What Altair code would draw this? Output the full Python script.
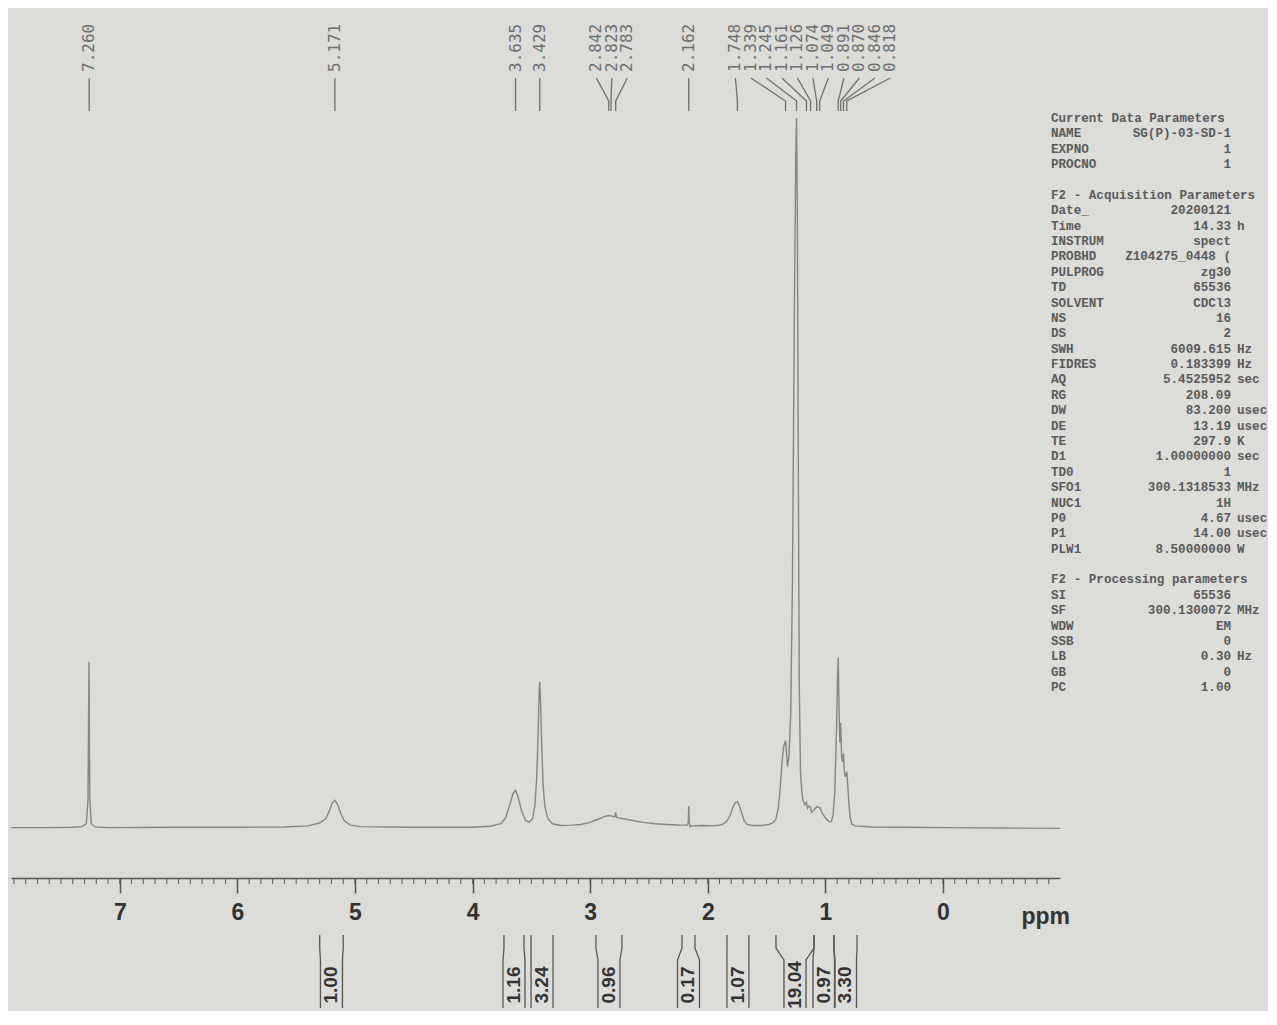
import altair as alt
import pandas as pd
import numpy as np

# ---------------- data ----------------
spec_ppm = [7.925, 7.6, 7.4, 7.32, 7.285, 7.270, 7.262, 7.255, 7.242, 7.21, 7.1, 6.5, 6.0, 5.6,
            5.40, 5.30, 5.25, 5.22, 5.195, 5.171, 5.15, 5.12, 5.09, 5.04, 4.95, 4.5, 4.0,
            3.85, 3.76, 3.72, 3.685, 3.655, 3.635, 3.615, 3.585, 3.55, 3.52, 3.49, 3.47, 3.455,
            3.443, 3.435, 3.429, 3.422, 3.413, 3.40, 3.385, 3.36, 3.32, 3.25, 3.15, 3.08, 3.0,
            2.94, 2.88, 2.842, 2.823, 2.80, 2.789, 2.783, 2.777, 2.72, 2.64, 2.55, 2.45, 2.35,
            2.25, 2.175, 2.166, 2.162, 2.158, 2.15, 2.13, 2.05, 1.95, 1.88, 1.84, 1.81, 1.785,
            1.765, 1.748, 1.73, 1.71, 1.69, 1.665, 1.62, 1.55, 1.48, 1.44, 1.42, 1.40, 1.385,
            1.37, 1.355, 1.339, 1.33, 1.322, 1.31, 1.295, 1.28, 1.265, 1.252, 1.245, 1.238, 1.23,
            1.222, 1.212, 1.20, 1.19, 1.175, 1.161, 1.152, 1.140, 1.126, 1.118, 1.10, 1.074,
            1.060, 1.049, 1.03, 1.00, 0.97, 0.95, 0.935, 0.92, 0.905, 0.897, 0.891, 0.884, 0.877,
            0.870, 0.862, 0.855, 0.846, 0.838, 0.830, 0.818, 0.808, 0.80, 0.79, 0.775, 0.75, 0.6,
            0.3, 0.0, -0.5, -0.995]
spec_int = [0.05, 0.05, 0.1, 0.2, 0.6, 4, 23.4, 4, 0.6, 0.15, 0.05, 0.1, 0.1, 0.15,
            0.3, 0.7, 1.3, 2.3, 3.5, 3.9, 3.4, 2.0, 1.0, 0.4, 0.2, 0.1, 0.1,
            0.25, 0.6, 1.4, 3.2, 4.9, 5.3, 4.5, 2.5, 1.1, 0.8, 1.3, 3.2, 7,
            13, 18.5, 20.6, 18, 12, 6, 3, 1.3, 0.6, 0.35, 0.4, 0.5, 0.8,
            1.2, 1.6, 1.75, 1.7, 1.6, 1.7, 2.2, 1.5, 1.3, 1.05, 0.8, 0.6, 0.5,
            0.42, 0.4, 0.8, 3.1, 0.8, 0.2, 0.3, 0.35, 0.3, 0.45, 0.9, 1.8, 3.0,
            3.6, 3.7, 3.1, 2.0, 1.0, 0.5, 0.35, 0.35, 0.5, 0.8, 1.3, 2.8, 5.5,
            9, 11.5, 12.3, 10.5, 8.7, 10, 16, 35, 70, 95, 100, 85, 50,
            20, 8, 5, 3.9, 3.3, 3.6, 2.8, 3.1, 2.9, 2.2, 2.5, 3.0,
            2.9, 2.9, 2.2, 1.4, 0.9, 0.9, 1.8, 5, 14, 21, 24, 17, 12,
            14.8, 10, 9.3, 10.5, 7.8, 7.2, 7.9, 5.5, 3.5, 1.5, 0.6, 0.3, 0.15,
            0.1, 0.05, 0.0, -0.05]

peak_ppm = [7.260, 5.171, 3.635, 3.429, 2.842, 2.823, 2.783, 2.162, 1.748, 1.339, 1.245,
            1.161, 1.126, 1.074, 1.049, 0.891, 0.870, 0.846, 0.818]

int_values = ["1.00", "1.16", "3.24", "0.96", "0.17", "1.07", "19.04", "0.97", "3.30"]
int_left = [5.30, 3.733, 3.503, 2.951, 2.219, 1.837, 1.420, 1.097, 0.927]
int_right = [5.10, 3.563, 3.316, 2.730, 2.109, 1.650, 1.097, 0.927, 0.731]

tick_values = [0, 1, 2, 3, 4, 5, 6, 7]

param_names = ["Current Data Parameters", "NAME", "EXPNO", "PROCNO", "",
               "F2 - Acquisition Parameters", "Date_", "Time", "INSTRUM", "PROBHD", "PULPROG",
               "TD", "SOLVENT", "NS", "DS", "SWH", "FIDRES", "AQ", "RG", "DW", "DE", "TE", "D1",
               "TD0", "SFO1", "NUC1", "P0", "P1", "PLW1", "",
               "F2 - Processing parameters", "SI", "SF", "WDW", "SSB", "LB", "GB", "PC"]
param_values = ["", "SG(P)-03-SD-1", "1", "1", "",
                "", "20200121", "14.33", "spect", "Z104275_0448 (", "zg30",
                "65536", "CDCl3", "16", "2", "6009.615", "0.183399", "5.4525952", "208.09",
                "83.200", "13.19", "297.9", "1.00000000",
                "1", "300.1318533", "1H", "4.67", "14.00", "8.50000000", "",
                "", "65536", "300.1300072", "EM", "0", "0.30", "0", "1.00"]
param_units = ["", "", "", "", "",
               "", "", "h", "", "", "",
               "", "", "", "", "Hz", "Hz", "sec", "", "usec", "usec", "K", "sec",
               "", "MHz", "", "usec", "usec", "W", "",
               "", "", "MHz", "", "", "Hz", "", ""]

# ---------------- geometry ----------------
W, H = 1049, 870
X_LEFT, X_RIGHT = 7.925, -0.995
PX_PER_PPM = W / (X_LEFT - X_RIGHT)
BASE = 820.0          # baseline position inside plot (px from top)
PX_PER_UNIT = 7.1


def yu(py):
    """plot-pixel row -> intensity units"""
    return (BASE - py) / PX_PER_UNIT


Y_DOM = [yu(H), yu(0)]
xs = alt.Scale(domain=[X_LEFT, X_RIGHT], zero=False, nice=False)
ys = alt.Scale(domain=Y_DOM, zero=False, nice=False)

GREY = "#7a7a7a"

# ---------------- spectrum ----------------
spec_df = pd.DataFrame({"ppm": spec_ppm, "I": spec_int})
spectrum = alt.Chart(spec_df).mark_line(color="#858585", strokeWidth=1.4, interpolate="linear").encode(
    x=alt.X("ppm:Q", scale=xs,
            axis=alt.Axis(values=tick_values, format="d", tickSize=15, tickWidth=1.5,
                          domainWidth=1.5, domainColor="#555", tickColor="#555",
                          labelFont="Liberation Sans", labelFontSize=23, labelFontWeight="bold",
                          labelColor="#333", labelPadding=8, grid=False, labelFlush=False,
                          title="ppm", titleFont="Liberation Sans", titleFontSize=23,
                          titleFontWeight="bold", titleColor="#333", titleX=1010, titleY=45,
                          titleAlign="left", titleBaseline="alphabetic")),
    y=alt.Y("I:Q", scale=ys, axis=None),
)

# minor ticks
minor_df = pd.DataFrame({"ppm": np.round(np.arange(-9, 80) / 10.0, 1)})
minor = alt.Chart(minor_df).mark_rule(color="#555", strokeWidth=1).encode(
    x=alt.X("ppm:Q", scale=xs), y=alt.value(H), y2=alt.value(H + 6)
)

# ---------------- peak labels (spread like the printer does) ----------------
gap = 15.5 / PX_PER_PPM
order = sorted(range(len(peak_ppm)), key=lambda i: -peak_ppm[i])
clusters = [[i] for i in order]


def cl_pos(cl):
    m = float(np.mean([peak_ppm[i] for i in cl]))
    n = len(cl)
    return [m + gap * ((n - 1) / 2.0 - j) for j in range(n)]


changed = True
while changed:
    changed = False
    for a in range(len(clusters) - 1):
        if cl_pos(clusters[a])[-1] - cl_pos(clusters[a + 1])[0] < gap - 1e-9:
            clusters[a] = clusters[a] + clusters[a + 1]
            del clusters[a + 1]
            changed = True
            break

lab_rows, lab_line_rows = [], []
for cl in clusters:
    for i, p in zip(cl, cl_pos(cl)):
        lab_rows.append({"ppm": p, "y": yu(64), "t": f"{peak_ppm[i]:.3f}"})
        lab_line_rows += [
            {"id": i, "s": 0, "ppm": p, "y": yu(70)},
            {"id": i, "s": 1, "ppm": peak_ppm[i], "y": yu(93)},
            {"id": i, "s": 2, "ppm": peak_ppm[i], "y": yu(103)},
        ]
lab_df = pd.DataFrame(lab_rows)
lab_line_df = pd.DataFrame(lab_line_rows)

label_text = alt.Chart(lab_df).mark_text(
    angle=270, align="left", baseline="middle", font="DejaVu Sans Mono", fontSize=16, color="#6e6e6e"
).encode(x=alt.X("ppm:Q", scale=xs), y=alt.Y("y:Q", scale=ys), text="t:N")

label_lines = alt.Chart(lab_line_df).mark_line(color="#6e6e6e", strokeWidth=1.3).encode(
    x=alt.X("ppm:Q", scale=xs), y=alt.Y("y:Q", scale=ys), detail="id:N", order="s:Q"
)

# ---------------- integrals ----------------
hw = 11.0 / PX_PER_PPM
int_line_rows, int_text_rows = [], []
for k, (v, L, R) in enumerate(zip(int_values, int_left, int_right)):
    c = (L + R) / 2.0
    for side, edge, box in (("L", L, c + hw), ("R", R, c - hw)):
        for s, (pp, py) in enumerate([(edge, 927), (edge, 940), (box, 952), (box, 1000)]):
            int_line_rows.append({"id": f"{k}{side}", "s": s, "ppm": pp, "y": yu(py)})
    int_text_rows.append({"ppm": c, "y": yu(977), "t": v})
int_line_df = pd.DataFrame(int_line_rows)
int_text_df = pd.DataFrame(int_text_rows)

int_lines = alt.Chart(int_line_df).mark_line(color="#555", strokeWidth=1.3).encode(
    x=alt.X("ppm:Q", scale=xs), y=alt.Y("y:Q", scale=ys), detail="id:N", order="s:Q"
)
int_text = alt.Chart(int_text_df).mark_text(
    angle=270, align="center", baseline="middle", font="Liberation Sans", fontSize=19,
    fontWeight="bold", color="#333"
).encode(x=alt.X("ppm:Q", scale=xs), y=alt.Y("y:Q", scale=ys), text="t:N")

main = alt.layer(spectrum, minor, label_lines, label_text, int_lines, int_text)

# ---------------- parameter panel ----------------
ROW0, ROWH = 110, 15.38
par_df = pd.DataFrame({
    "name": param_names, "val": param_values, "unit": param_units,
    "py": [ROW0 + i * ROWH for i in range(len(param_names))],
})
par_df["pxn"] = 1040
par_df["pxv"] = 1220
par_df["pxu"] = 1226
pfont = dict(font="Liberation Mono", fontSize=12.6, fontWeight="bold", color="#5a5a5a", baseline="middle")
p_names = alt.Chart(par_df).mark_text(align="left", **pfont).encode(
    x=alt.X("pxn:Q", scale=None, axis=None), y=alt.Y("py:Q", scale=None, axis=None), text="name:N")
p_vals = alt.Chart(par_df).mark_text(align="right", **pfont).encode(
    x=alt.X("pxv:Q", scale=None, axis=None), y=alt.Y("py:Q", scale=None, axis=None), text="val:N")
p_units = alt.Chart(par_df).mark_text(align="left", **pfont).encode(
    x=alt.X("pxu:Q", scale=None, axis=None), y=alt.Y("py:Q", scale=None, axis=None), text="unit:N")

chart = alt.layer(main, p_names, p_vals, p_units).resolve_scale(
    x="independent", y="independent"
).properties(
    width=W, height=H, padding=0, background="#dcdcd9"
).configure_view(stroke=None)

chart.save("out.html", embed_options={"renderer": "svg", "actions": False})
